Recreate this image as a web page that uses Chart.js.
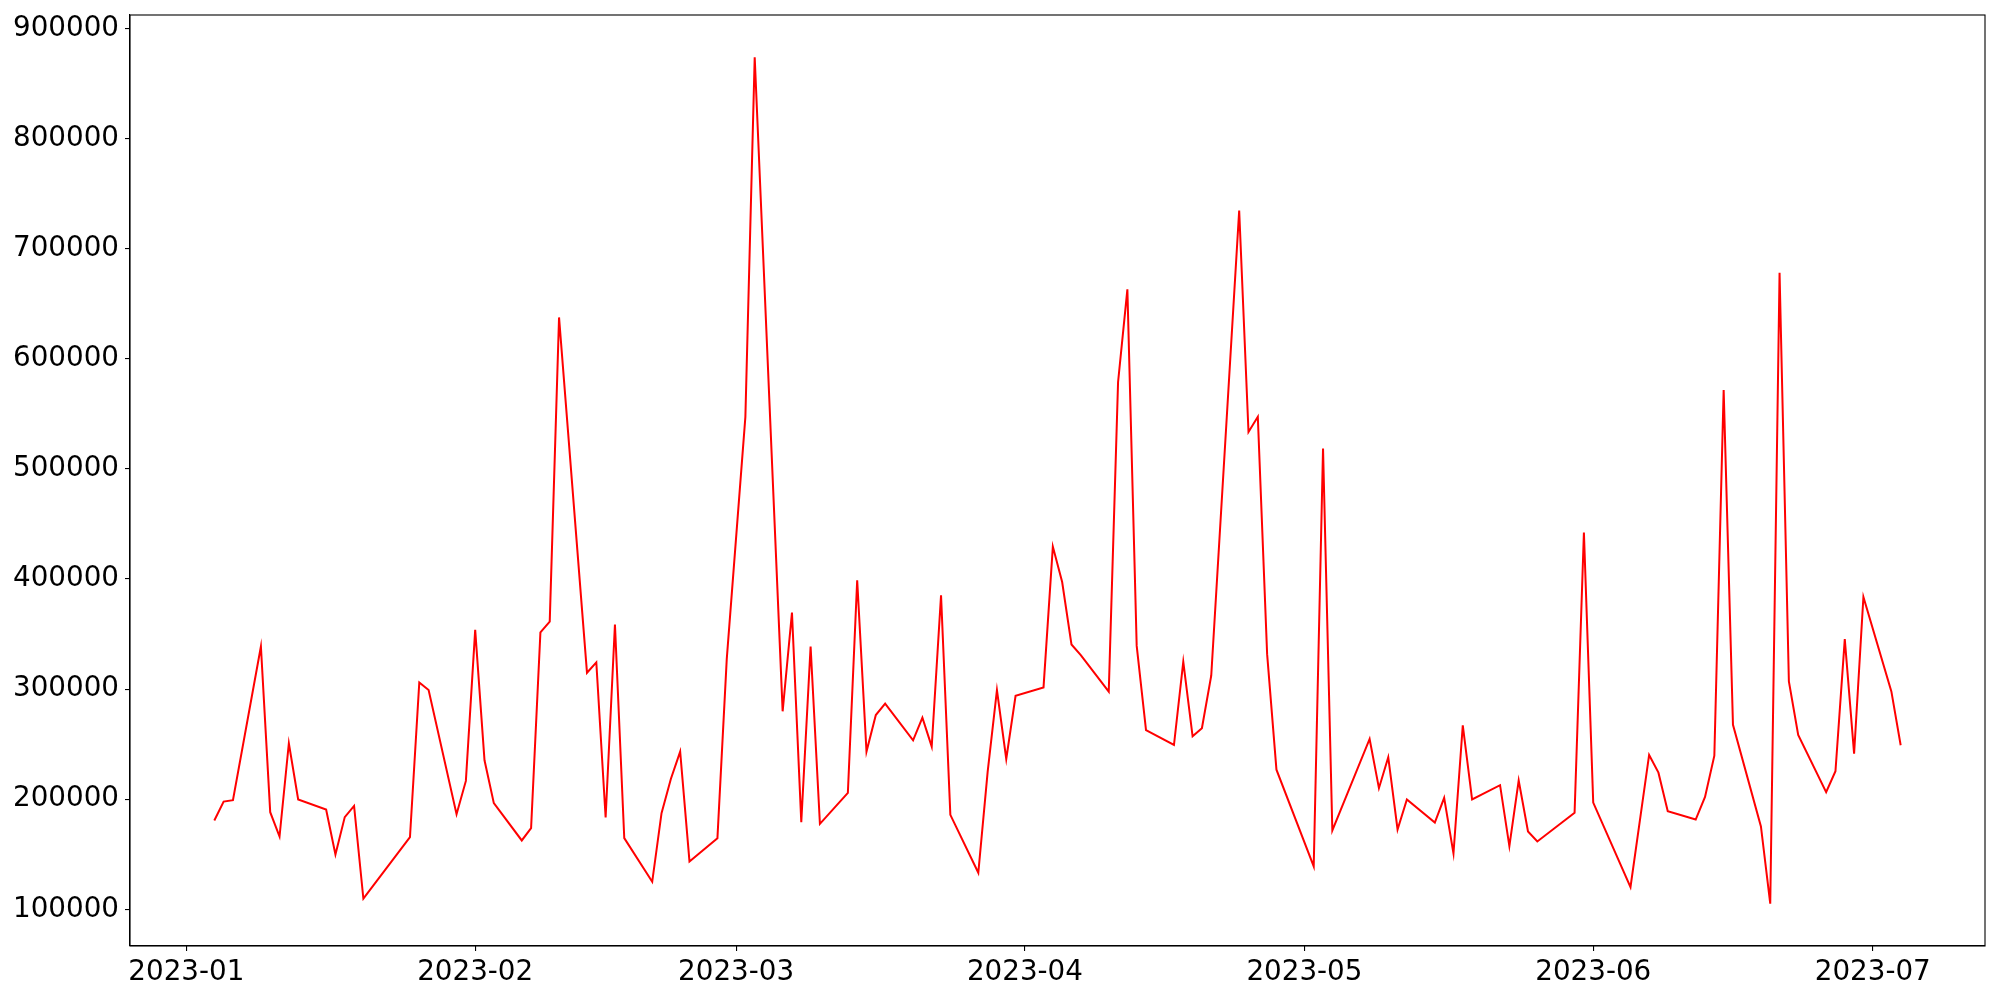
<!DOCTYPE html>
<html>
<head>
<meta charset="utf-8">
<script src="https://cdn.jsdelivr.net/npm/chart.js@4/dist/chart.umd.min.js"></script>
<style>
  html, body { margin: 0; padding: 0; background: #ffffff; }
  canvas { display: block; }
</style>
</head>
<body>
<canvas id="c" width="2000" height="1000"></canvas>
<script>
const dates = [
  "2023-01-04","2023-01-05","2023-01-06","2023-01-09","2023-01-10","2023-01-11","2023-01-12","2023-01-13",
  "2023-01-16","2023-01-17","2023-01-18","2023-01-19","2023-01-20","2023-01-25","2023-01-26","2023-01-27",
  "2023-01-30","2023-01-31","2023-02-01","2023-02-02","2023-02-03","2023-02-06","2023-02-07","2023-02-08",
  "2023-02-09","2023-02-10","2023-02-13","2023-02-14","2023-02-15","2023-02-16","2023-02-17","2023-02-20",
  "2023-02-21","2023-02-22","2023-02-23","2023-02-24","2023-02-27","2023-02-28","2023-03-02","2023-03-03",
  "2023-03-06","2023-03-07","2023-03-08","2023-03-09","2023-03-10","2023-03-13","2023-03-14","2023-03-15",
  "2023-03-16","2023-03-17","2023-03-20","2023-03-21","2023-03-22","2023-03-23","2023-03-24","2023-03-27",
  "2023-03-28","2023-03-29","2023-03-30","2023-03-31","2023-04-03","2023-04-04","2023-04-05","2023-04-06",
  "2023-04-07","2023-04-10","2023-04-11","2023-04-12","2023-04-13","2023-04-14","2023-04-17","2023-04-18",
  "2023-04-19","2023-04-20","2023-04-21","2023-04-24","2023-04-25","2023-04-26","2023-04-27","2023-04-28",
  "2023-05-02","2023-05-03","2023-05-04","2023-05-08","2023-05-09","2023-05-10","2023-05-11","2023-05-12",
  "2023-05-15","2023-05-16","2023-05-17","2023-05-18","2023-05-19","2023-05-22","2023-05-23","2023-05-24",
  "2023-05-25","2023-05-26","2023-05-30","2023-05-31","2023-06-01","2023-06-05","2023-06-07","2023-06-08",
  "2023-06-09","2023-06-12","2023-06-13","2023-06-14","2023-06-15","2023-06-16","2023-06-19","2023-06-20",
  "2023-06-21","2023-06-22","2023-06-23","2023-06-26","2023-06-27","2023-06-28","2023-06-29","2023-06-30",
  "2023-07-03","2023-07-04"
];
const volumes = [
  180600,197800,199100,338700,188200,166100,250800,199700,
  190600,149800,183700,193900,109600,165600,306000,299100,
  186400,216600,353700,235300,196400,162500,173700,351400,
  361300,637500,314800,324200,183400,358600,164600,125000,
  187300,218400,243200,143500,164600,327200,547200,873700,
  279800,369500,179200,338700,177600,205700,398800,243200,
  276400,286700,253400,274000,247700,385200,185800,133200,
  224500,299100,236500,293900,301500,429400,397200,340500,
  330800,297600,578600,663000,339200,262800,249200,324800,
  257100,264400,312100,734600,533500,547300,331700,226800,
  138900,518400,171600,254700,210000,238100,172500,199700,
  178800,201200,150700,267100,199700,212700,157400,216900,
  170700,161600,187600,442100,196900,120200,240200,224100,
  189100,181500,202100,239500,571600,267600,175200,105100,
  678000,306900,258300,206300,225400,345300,241300,383600,
  297900,249000
];
const xTickDates = ["2023-01-01","2023-02-01","2023-03-01","2023-04-01","2023-05-01","2023-06-01","2023-07-01"];
const xTickLabels = ["2023-01","2023-02","2023-03","2023-04","2023-05","2023-06","2023-07"];
const yTicks = [100000,200000,300000,400000,500000,600000,700000,800000,900000];

const DAY = 86400000;
const origin = Date.UTC(2023, 0, 1);
function dayNum(s) {
  const p = s.split("-").map(Number);
  return (Date.UTC(p[0], p[1] - 1, p[2]) - origin) / DAY;
}
const points = dates.map((d, i) => ({ x: dayNum(d), y: volumes[i] }));
const xTickVals = xTickDates.map(dayNum);

const xs = points.map(p => p.x), ys = points.map(p => p.y);
const xMin0 = Math.min(...xs), xMax0 = Math.max(...xs);
const yMin0 = Math.min(...ys), yMax0 = Math.max(...ys);
const xm = (xMax0 - xMin0) * 0.05, ym = (yMax0 - yMin0) * 0.05;

const FONT = { family: "'DejaVu Sans', sans-serif", size: 27.78 };

const framePlugin = {
  id: 'frame',
  afterDraw(chart) {
    const a = chart.chartArea, ctx = chart.ctx;
    ctx.save();
    ctx.strokeStyle = '#000';
    ctx.lineWidth = 1.1;
    ctx.strokeRect(a.left, a.top, a.right - a.left, a.bottom - a.top);
    ctx.restore();
  }
};

new Chart(document.getElementById('c'), {
  type: 'line',
  data: {
    datasets: [{
      data: points,
      borderColor: '#ff0000',
      borderWidth: 2,
      pointRadius: 0,
      tension: 0,
      fill: false
    }]
  },
  options: {
    responsive: false,
    animation: false,
    events: [],
    layout: { padding: { left: 0, right: 15, top: 15, bottom: 0 } },
    plugins: { legend: { display: false }, tooltip: { enabled: false } },
    scales: {
      x: {
        type: 'linear',
        min: xMin0 - xm,
        max: xMax0 + xm,
        afterBuildTicks(scale) { scale.ticks = xTickVals.map(v => ({ value: v })); },
        afterFit(scale) {
          scale.height = 54;
          scale.paddingLeft = 0; scale.paddingRight = 0;
          scale.paddingTop = 0; scale.paddingBottom = 0;
        },
        ticks: {
          autoSkip: false,
          maxRotation: 0,
          color: '#000',
          font: FONT,
          padding: 5,
          callback(value) {
            const i = xTickVals.indexOf(value);
            return i >= 0 ? xTickLabels[i] : '';
          }
        },
        grid: { display: true, drawOnChartArea: false, drawTicks: true, tickLength: 5, color: '#000', lineWidth: 1.1 },
        border: { display: true, color: '#000', width: 1.1 }
      },
      y: {
        type: 'linear',
        min: yMin0 - ym,
        max: yMax0 + ym,
        afterBuildTicks(scale) { scale.ticks = yTicks.map(v => ({ value: v })); },
        afterFit(scale) {
          scale.width = 130;
          scale.paddingLeft = 0; scale.paddingRight = 0;
          scale.paddingTop = 0; scale.paddingBottom = 0;
        },
        ticks: {
          autoSkip: false,
          color: '#000',
          font: FONT,
          padding: 6,
          callback(value) { return String(value); }
        },
        grid: { display: true, drawOnChartArea: false, drawTicks: true, tickLength: 5, color: '#000', lineWidth: 1.1 },
        border: { display: true, color: '#000', width: 1.1 }
      }
    }
  },
  plugins: [framePlugin]
});
</script>
</body>
</html>
